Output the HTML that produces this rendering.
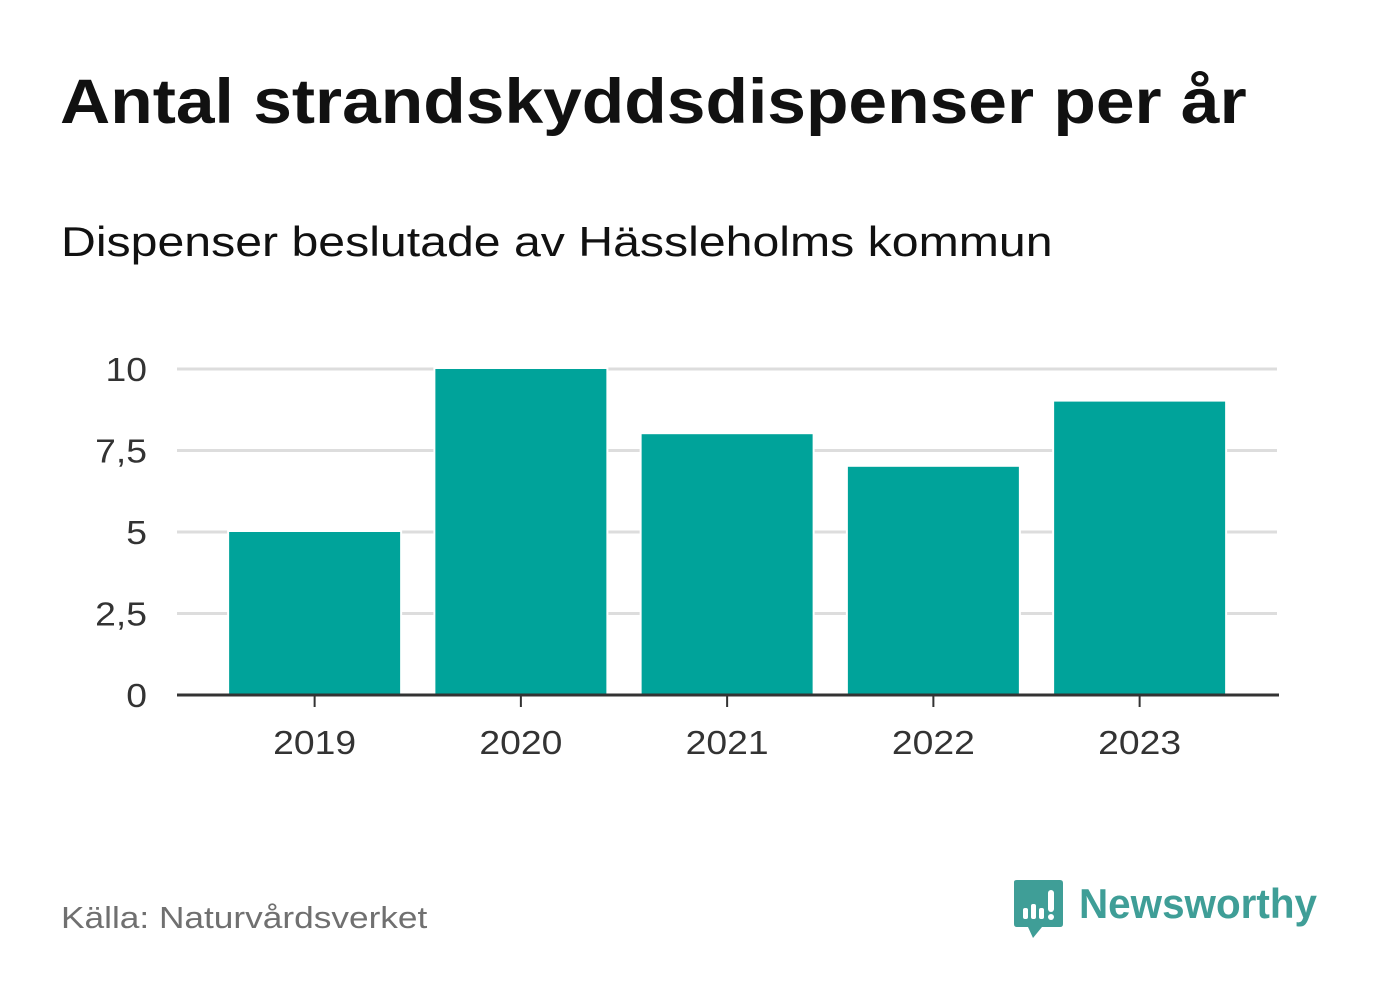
<!DOCTYPE html>
<html><head><meta charset="utf-8">
<style>
html,body{margin:0;padding:0;background:#fff;}
body{width:1382px;height:999px;overflow:hidden;position:relative;font-family:"Liberation Sans","DejaVu Sans",sans-serif;}
.t{position:absolute;white-space:nowrap;transform-origin:0 0;}
</style></head>
<body>
<div class="t" style="left:60px;top:66px;font-size:63px;font-weight:bold;color:#111;transform:scaleX(1.104);">Antal strandskyddsdispenser per år</div>
<div class="t" style="left:61px;top:218px;font-size:42px;color:#111;transform:scaleX(1.148);">Dispenser beslutade av Hässleholms kommun</div>
<svg id="chart" width="1382" height="999" style="position:absolute;left:0;top:0;"></svg>
<div class="t" style="left:61px;top:900px;font-size:31px;color:#707070;transform:scaleX(1.137);">Källa: Naturvårdsverket</div>
<svg width="320" height="70" style="position:absolute;left:1008px;top:876px;">
<path d="M6,6 Q6,4 9,4 L52,4 Q55,4 55,7 L55,48 Q55,51 52,51 L34,51 L25,62 L20,51 L9,51 Q6,51 6,48 Z" fill="#3f9e97"/>
<rect x="15" y="32" width="5" height="11" rx="2" fill="#fff"/>
<rect x="23" y="28" width="5" height="15" rx="2" fill="#fff"/>
<rect x="31" y="32" width="5" height="11" rx="2" fill="#fff"/>
<rect x="40" y="14" width="6" height="22" rx="3" fill="#fff"/>
<circle cx="43" cy="41" r="3" fill="#fff"/>
<text x="71" y="42" font-family="Liberation Sans, sans-serif" font-weight="bold" font-size="42" fill="#3f9e97" textLength="238" lengthAdjust="spacingAndGlyphs">Newsworthy</text>
</svg>
<script>
const categories = ["2019","2020","2021","2022","2023"];
const values = [5, 10, 8, 7, 9];
const yTicks = [0, 2.5, 5, 7.5, 10];
const yTickLabels = ["0","2,5","5","7,5","10"];

const NS = "http://www.w3.org/2000/svg";
const svg = document.getElementById("chart");
const x0 = 177, x1 = 1277, bandStart = 211.5, bandW = 206.25, barW = 171;
const yBase = 695, yTop = 369, yMax = 10;
function yScale(v){ return yBase - (v / yMax) * (yBase - yTop); }
function xCenter(i){ return bandStart + bandW * (i + 0.5); }
function mk(tag, attrs){ const e = document.createElementNS(NS, tag); for (const k in attrs) e.setAttribute(k, attrs[k]); svg.appendChild(e); return e; }

yTicks.forEach((t, i) => {
  if (t !== 0) {
    const g = mk("line", {x1: x0, x2: x1, y1: yScale(t), y2: yScale(t), stroke: "#dddddd", "stroke-width": 3});
    
    
  }
  const lb = mk("text", {x: 0, y: 0, transform: "translate(147," + (yScale(t) + 12) + ") scale(1.13,1)", "text-anchor": "end", "font-size": 33, fill: "#333", "font-family": "Liberation Sans, sans-serif"});
  lb.textContent = yTickLabels[i];
  
  
});

values.forEach((v, i) => {
  const cx = xCenter(i);
  const r = mk("rect", {x: cx - barW / 2, y: yScale(v), width: barW, height: yBase - yScale(v), fill: "#00a39a", stroke: "#fff", "stroke-width": 4, "paint-order": "stroke"});
  
  
  const tk = mk("line", {x1: cx, x2: cx, y1: yBase, y2: yBase + 12, stroke: "#333", "stroke-width": 2});
  
  
  const lb = mk("text", {x: 0, y: 0, transform: "translate(" + cx + "," + (yBase + 59) + ") scale(1.13,1)", "text-anchor": "middle", "font-size": 33, fill: "#333", "font-family": "Liberation Sans, sans-serif"});
  lb.textContent = categories[i];
  
  
});

const ax = mk("line", {x1: x0, x2: x1 + 2, y1: yBase, y2: yBase, stroke: "#333", "stroke-width": 3});


</script>
</body></html>
